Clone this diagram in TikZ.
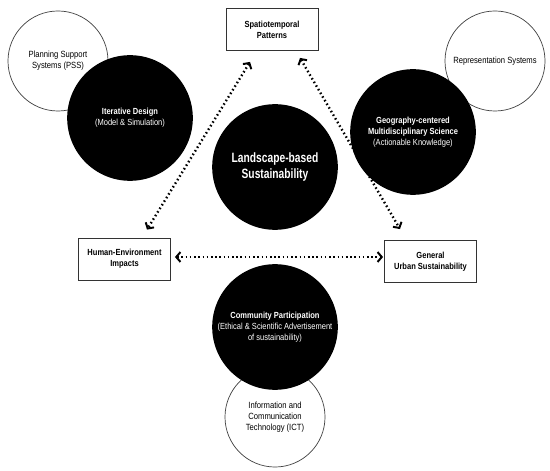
\documentclass[tikz,border=0pt]{standalone}
\usepackage{fontspec}
\setmainfont[FakeStretch=0.85]{Liberation Sans}
\newfontfamily\narrowfont[FakeStretch=0.76]{Liberation Sans}
\usepackage{tikz}
\usetikzlibrary{arrows.meta,positioning}

\begin{document}
\begin{tikzpicture}[x=0.025cm, y=-0.025cm,
  node_wht/.style={draw=black!75, line width=0.5pt, fill=white, circle, minimum size=2.5cm, inner sep=0pt, align=center, font=\fontsize{6.4}{7.6}\selectfont},
  node_blk/.style={fill=black, circle, minimum size=3.14cm, inner sep=0pt, align=center, text=white, font=\fontsize{6.3}{7.8}\selectfont},
  node_box/.style={draw=black!80, line width=0.6pt, fill=white, minimum width=2.3cm, minimum height=1.05cm, inner sep=1pt, align=center, font=\fontsize{6.3}{7.8}\selectfont\bfseries},
  arr_dot/.style={{Straight Barb[length=3pt,width=7pt,line width=1.4pt]}-{Straight Barb[length=3pt,width=7pt,line width=1.4pt]}, line width=1.7pt, dash pattern=on 1.1pt off 1.9pt}
]
  \useasboundingbox (0,0) rectangle (550,471);

  %% white circles (behind)
  \node[node_wht] (pss) at (58,61) {Planning Support\\Systems (PSS)};
  \node[node_wht] (rep) at (495,61) {Representation Systems};
  \node[node_wht] (ict) at (275,417) {Information and\\Communication\\Technology (ICT)};

  %% black circles
  \node[node_blk] (iter) at (130,118) {\textbf{Iterative Design}\\(Model \& Simulation)};
  \node[node_blk] (geo) at (413,132) {\textbf{Geography-centered}\\\textbf{Multidisciplinary Science}\\(Actionable Knowledge)};
  \node[node_blk, font=\narrowfont\fontsize{9.6}{12}\selectfont\bfseries] (land) at (275,167) {Landscape-based\\Sustainability};
  \node[node_blk] (comm) at (275,327) {\textbf{Community Participation}\\(Ethical \& Scientific Advertisement\\of sustainability)};

  %% boxes
  \node[node_box] (spat) at (272,29.5) {Spatiotemporal\\Patterns};
  \node[node_box] (hum) at (124.5,259) {Human-Environment\\Impacts};
  \node[node_box] (gen) at (430.5,261.5) {General\\Urban Sustainability};

  %% dotted arrows
  \draw[arr_dot] ([shift={(-22,11)}]spat.south) -- ([shift={(22.5,-8)}]hum.north);
  \draw[arr_dot] ([shift={(28,7)}]spat.south) -- ([shift={(-30.5,-11)}]gen.north);
  \draw[arr_dot] ([shift={(4,-2)}]hum.east) -- ([shift={(-1,-4.5)}]gen.west);
\end{tikzpicture}
\end{document}
